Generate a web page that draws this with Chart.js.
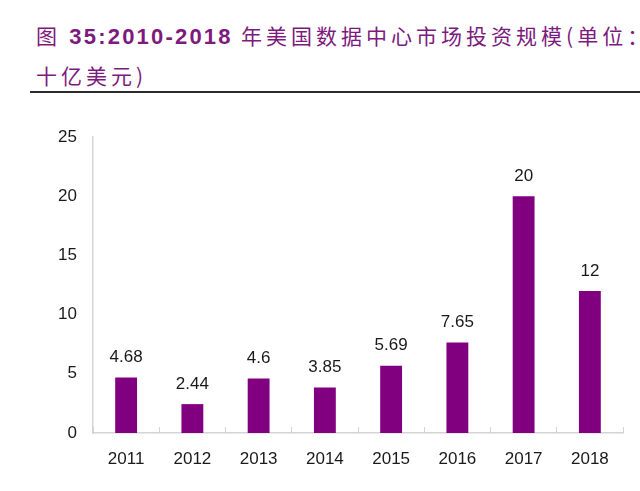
<!DOCTYPE html>
<html>
<head>
<meta charset="utf-8">
<script src="https://cdn.jsdelivr.net/npm/chart.js@4"></script>
<style>
  html, body { margin: 0; padding: 0; background: #fff; }
  body { width: 640px; height: 491px; position: relative; overflow: hidden; }
  #title {
    position: absolute; left: 36px; top: 16px; right: 0;
    font-family: "Noto Sans CJK SC", sans-serif; font-size: 21px; line-height: 38px;
    letter-spacing: 4px; color: #7d1a7d; white-space: nowrap; overflow: hidden;
  }
  #title b { font-family: "Liberation Sans", Arial, sans-serif; font-weight: bold; font-size: 22px; letter-spacing: 2.2px; }
  #rule { position: absolute; left: 30px; right: 0; top: 91px; height: 2px; background: #2b2b2b; }
  #wrap { position: absolute; left: 0; top: 0; width: 640px; height: 491px; }
</style>
</head>
<body>
<div id="title">图<b> 35:2010-2018 </b>年美国数据中心市场投资规模(单位：<br>十亿美元)</div>
<div id="rule"></div>
<div id="wrap"><canvas id="chart"></canvas></div>
<script>
/* ── Data ── */
const years  = ['2011', '2012', '2013', '2014', '2015', '2016', '2017', '2018'];
const values = [4.68, 2.44, 4.6, 3.85, 5.69, 7.65, 20, 12];
const yTicks = [0, 5, 10, 15, 20, 25];

const BAR = '#800080';
const TXT = '#1a1a1a';
const AXIS = '#d4d4d4';
const FONT = '"Liberation Sans", Arial, sans-serif';

// value labels above bars
const barLabels = {
  id: 'barLabels',
  afterDatasetsDraw(chart) {
    const { ctx } = chart;
    const meta = chart.getDatasetMeta(0);
    ctx.save();
    ctx.font = '17px ' + FONT;
    ctx.fillStyle = TXT;
    ctx.textAlign = 'center';
    ctx.textBaseline = 'middle';
    meta.data.forEach((bar, i) => {
      ctx.fillText(String(values[i]), bar.x, bar.y - 20);
    });
    ctx.restore();
  }
};

new Chart(document.getElementById('chart'), {
  type: 'bar',
  data: {
    labels: years,
    datasets: [{
      data: values,
      backgroundColor: BAR,
      borderWidth: 0,
      barPercentage: 0.33,
      categoryPercentage: 1
    }]
  },
  options: {
    responsive: true, maintainAspectRatio: false, animation: false,
    devicePixelRatio: 1,
    layout: { padding: { top: 137, right: 17, left: 0, bottom: 0 } },
    plugins: { legend: { display: false }, tooltip: { enabled: false } },
    scales: {
      x: {
        grid: { display: true, drawOnChartArea: false, drawTicks: true, tickLength: -6, color: AXIS, offset: true },
        border: { display: true, color: AXIS, width: 1.5 },
        ticks: { color: TXT, font: { family: FONT, size: 17 }, padding: 22, maxRotation: 0 },
        afterFit: s => { s.height = 58; }
      },
      y: {
        min: 0, max: 25,
        afterBuildTicks: s => { s.ticks = yTicks.map(v => ({ value: v })); },
        grid: { display: false, drawTicks: false },
        border: { display: true, color: AXIS, width: 1.5 },
        ticks: { color: TXT, font: { family: FONT, size: 17 }, padding: 16 },
        afterFit: s => { s.width = 93; }
      }
    }
  },
  plugins: [barLabels]
});
</script>
</body>
</html>
